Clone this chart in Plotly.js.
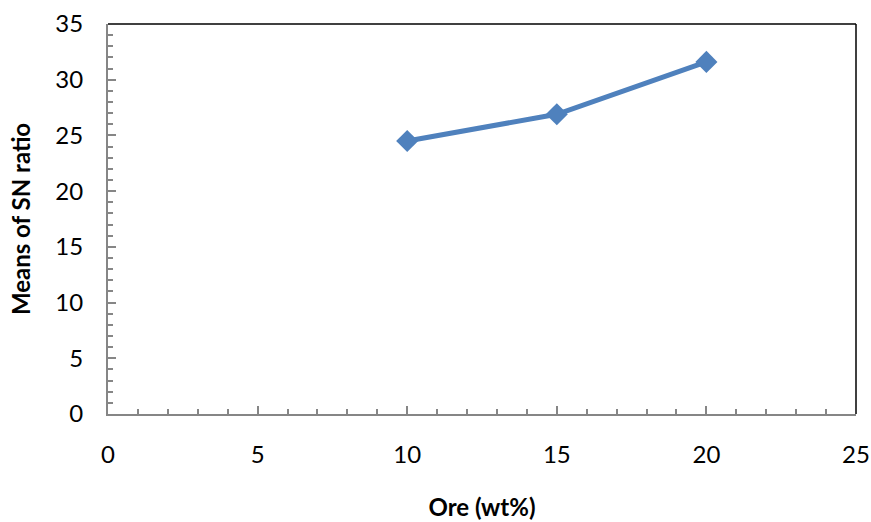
<!DOCTYPE html>
<html>
<head>
<meta charset="utf-8">
<script src="https://cdn.plot.ly/plotly-3.0.1.min.js"></script>
<style>html,body{margin:0;padding:0;background:#fff;}#chart{width:871px;height:522px;}</style>
</head>
<body>
<div id="chart"></div>
<script>
const oreLevels = [10, 15, 20];
const snMeans = [24.5, 26.9, 31.6];
const xTickVals = [0, 5, 10, 15, 20, 25];
const yTickVals = [0, 5, 10, 15, 20, 25, 30, 35];

const fontFam = 'Lato, "Open Sans", sans-serif';
const trace = {
  x: oreLevels, y: snMeans, type: 'scatter', mode: 'lines+markers',
  line: {color: '#4F81BD', width: 5},
  marker: {symbol: 'diamond', size: 17, color: '#4F81BD'},
  showlegend: false
};
const layout = {
  width: 871, height: 522,
  margin: {l: 108, r: 15, t: 24, b: 108},
  paper_bgcolor: '#fff', plot_bgcolor: '#fff',
  font: {family: fontFam, color: '#000', size: 24},
  xaxis: {
    range: [0, 25], tickvals: xTickVals, showgrid: false, zeroline: false,
    showline: true, linecolor: '#868686', linewidth: 2,
    ticks: 'inside', ticklen: 8, tickwidth: 2, tickcolor: '#868686',
    minor: {dtick: 1, ticks: 'inside', ticklen: 5, tickwidth: 2, tickcolor: '#868686', showgrid: false},
    ticklabelstandoff: 18,
    tickfont: {size: 24, family: fontFam},
    title: {text: '<b>Ore (wt%)</b>', font: {size: 24, family: fontFam}, standoff: 32}
  },
  yaxis: {
    range: [0, 35], tickvals: yTickVals, showgrid: false, zeroline: false,
    showline: true, linecolor: '#868686', linewidth: 2,
    ticks: 'inside', ticklen: 8, tickwidth: 2, tickcolor: '#868686',
    minor: {dtick: 1, ticks: 'inside', ticklen: 5, tickwidth: 2, tickcolor: '#868686', showgrid: false},
    ticklabelstandoff: 18,
    tickfont: {size: 24, family: fontFam},
    title: {text: '<b>Means of SN ratio</b>', font: {size: 24, family: fontFam}, standoff: 18}
  },
  shapes: [
    {type: 'line', xref: 'paper', yref: 'paper', x0: 0, x1: 1, y0: 1, y1: 1, line: {color: '#000', width: 1.5}},
    {type: 'line', xref: 'paper', yref: 'paper', x0: 1, x1: 1, y0: 0, y1: 1, line: {color: '#000', width: 1.5}}
  ]
};
Plotly.newPlot('chart', [trace], layout, {displayModeBar: false, staticPlot: true});
</script>
</body>
</html>
